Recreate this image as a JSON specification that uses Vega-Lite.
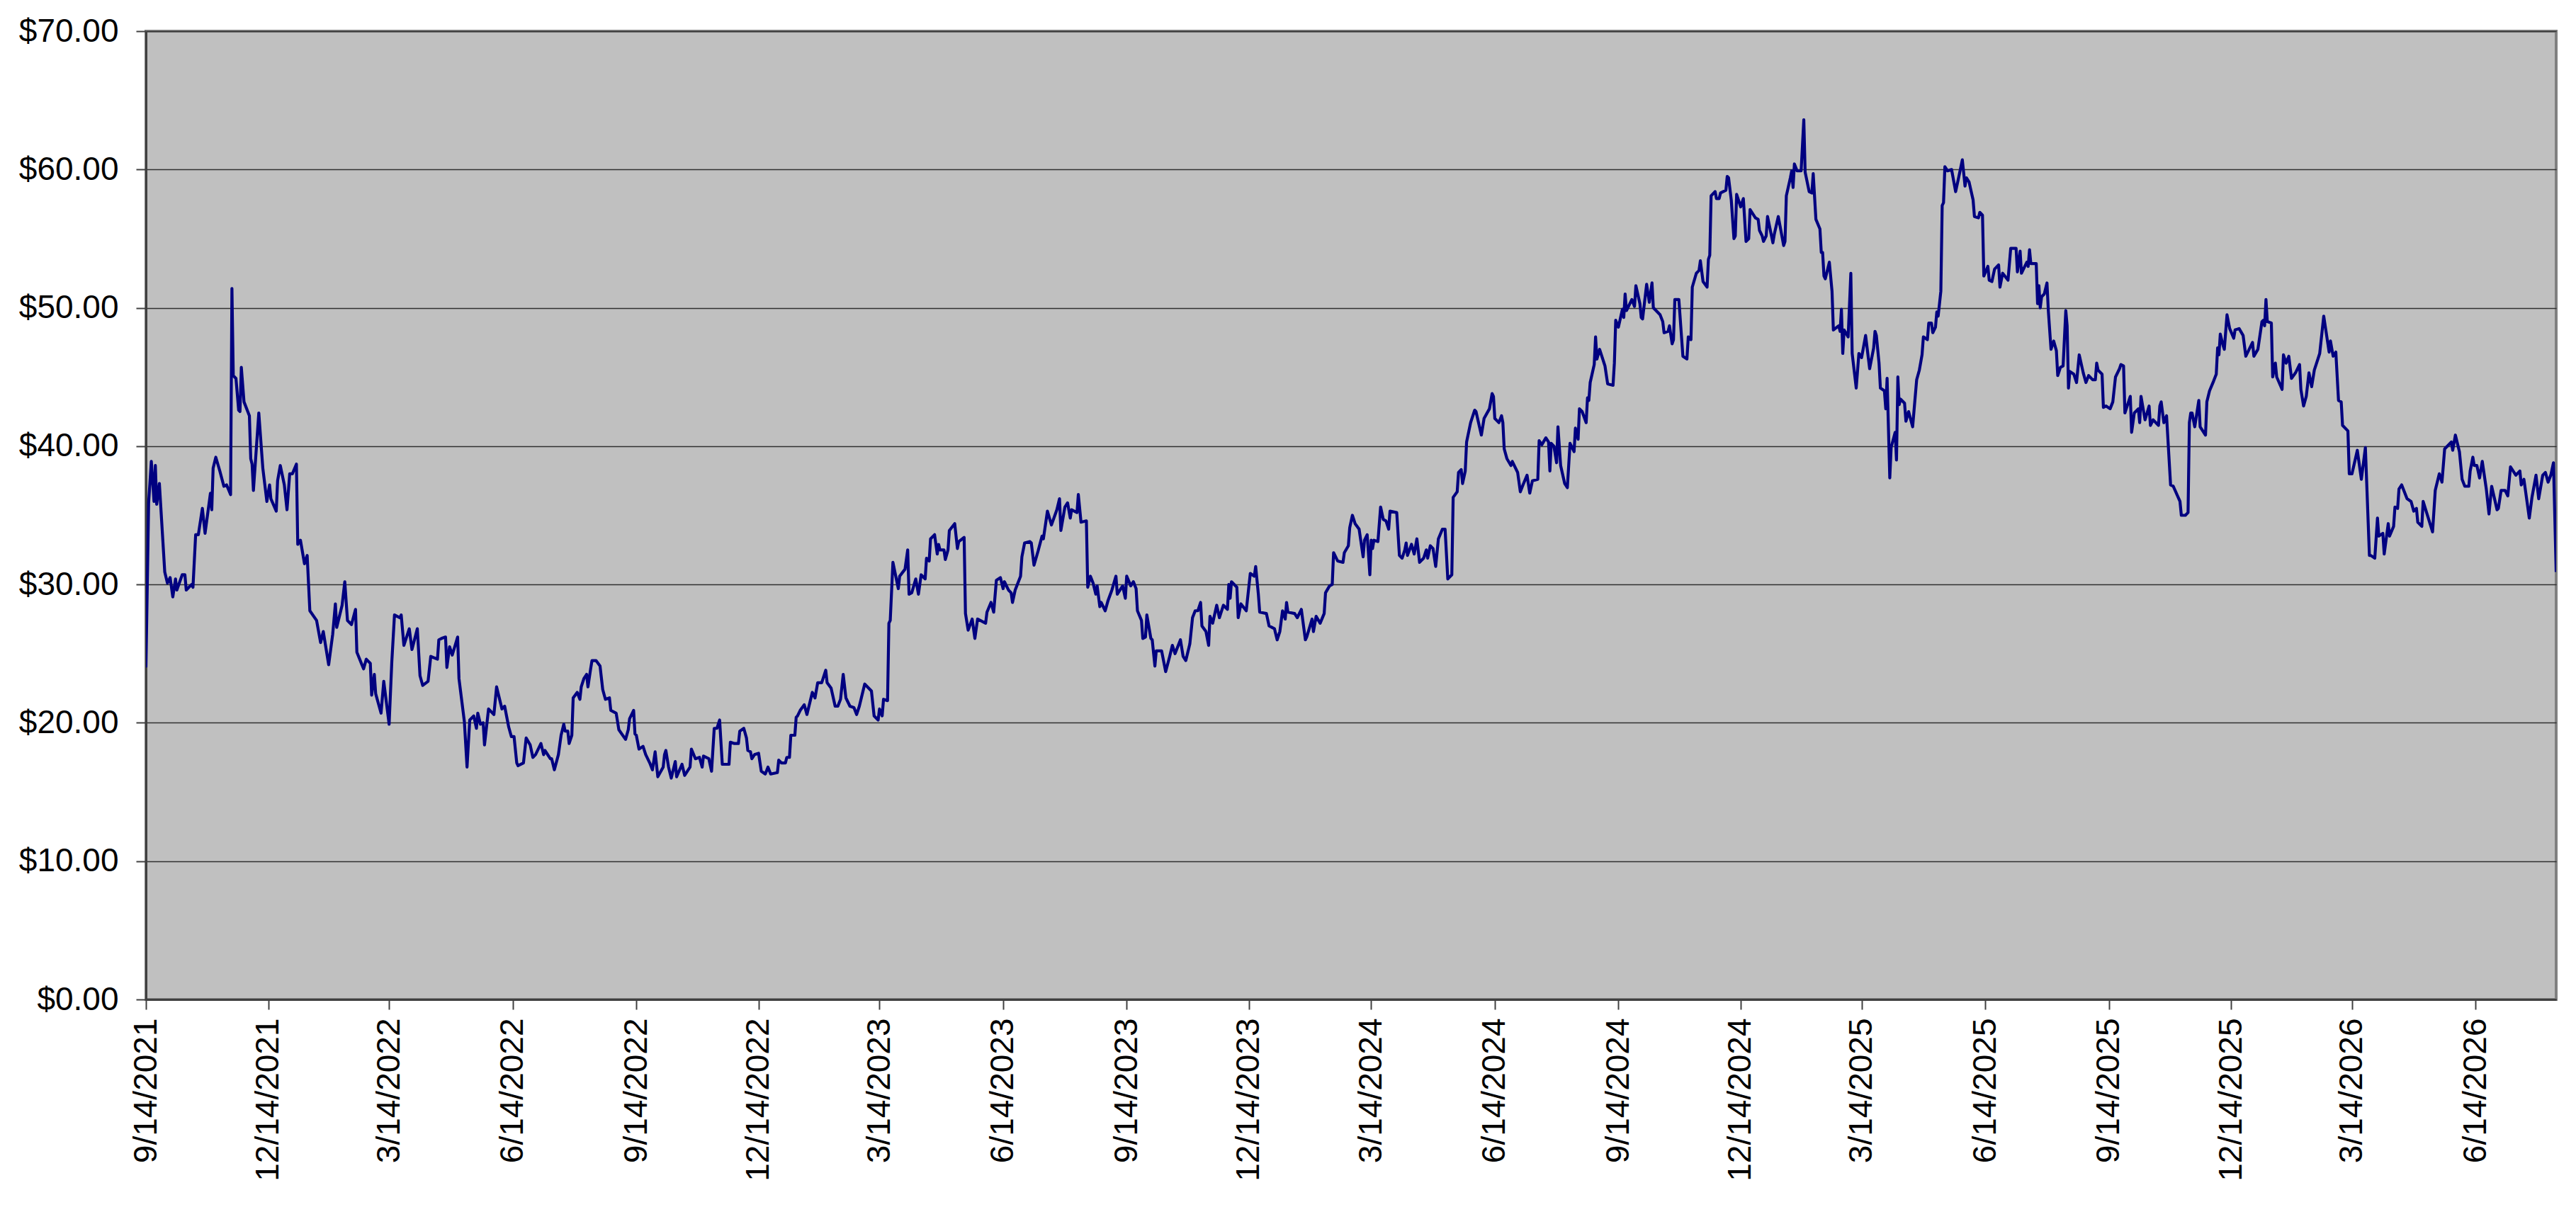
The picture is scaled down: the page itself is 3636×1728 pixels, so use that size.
{
  "$schema": "https://vega.github.io/schema/vega-lite/v6.json",
  "width": 3402,
  "height": 1367,
  "autosize": {"type": "none"},
  "padding": {"left": 206, "top": 44, "right": 28, "bottom": 317},
  "background": "white",
  "config": {
    "view": {"fill": "#C0C0C0", "stroke": "#808080", "strokeWidth": 4},
    "axis": {
      "labelFont": "Liberation Sans",
      "labelFontSize": 46,
      "labelColor": "black",
      "labelOverlap": false,
      "labelLimit": 600,
      "tickSize": 14,
      "tickColor": "#404040",
      "tickWidth": 2,
      "domainColor": "#404040",
      "domainWidth": 3,
      "title": null
    }
  },
  "data": {
    "values": [
      {"date":"2021/09/14","price":24.0},{"date":"2021/09/16","price":35.9},{"date":"2021/09/18","price":38.9},{"date":"2021/09/20","price":36.0},{"date":"2021/09/21","price":38.6},{"date":"2021/09/22","price":35.8},{"date":"2021/09/24","price":37.3},{"date":"2021/09/28","price":30.9},{"date":"2021/09/30","price":30.1},
      {"date":"2021/10/02","price":30.5},{"date":"2021/10/04","price":29.1},{"date":"2021/10/06","price":30.4},{"date":"2021/10/07","price":29.6},{"date":"2021/10/11","price":30.7},{"date":"2021/10/13","price":30.7},{"date":"2021/10/14","price":29.6},{"date":"2021/10/18","price":30.0},{"date":"2021/10/19","price":29.8},{"date":"2021/10/21","price":33.6},{"date":"2021/10/23","price":33.6},{"date":"2021/10/26","price":35.5},{"date":"2021/10/28","price":33.7},
      {"date":"2021/11/01","price":36.6},{"date":"2021/11/02","price":35.4},{"date":"2021/11/03","price":38.4},{"date":"2021/11/05","price":39.2},{"date":"2021/11/08","price":38.2},{"date":"2021/11/11","price":37.1},{"date":"2021/11/13","price":37.2},{"date":"2021/11/16","price":36.5},{"date":"2021/11/17","price":51.4},{"date":"2021/11/18","price":45.1},{"date":"2021/11/20","price":44.9},{"date":"2021/11/22","price":42.6},{"date":"2021/11/23","price":42.5},{"date":"2021/11/24","price":45.7},{"date":"2021/11/26","price":43.2},{"date":"2021/11/30","price":42.2},
      {"date":"2021/12/01","price":39.1},{"date":"2021/12/02","price":38.7},{"date":"2021/12/03","price":36.8},{"date":"2021/12/07","price":42.4},{"date":"2021/12/10","price":38.4},{"date":"2021/12/13","price":36.0},{"date":"2021/12/15","price":37.2},{"date":"2021/12/16","price":36.2},{"date":"2021/12/20","price":35.3},{"date":"2021/12/21","price":37.5},{"date":"2021/12/23","price":38.6},{"date":"2021/12/26","price":37.2},{"date":"2021/12/28","price":35.4},{"date":"2021/12/30","price":38.0},
      {"date":"2022/01/01","price":38.0},{"date":"2022/01/04","price":38.7},{"date":"2022/01/05","price":32.9},{"date":"2022/01/07","price":33.2},{"date":"2022/01/10","price":31.5},{"date":"2022/01/12","price":32.1},{"date":"2022/01/14","price":28.1},{"date":"2022/01/19","price":27.4},{"date":"2022/01/22","price":25.8},{"date":"2022/01/24","price":26.6},{"date":"2022/01/28","price":24.2},{"date":"2022/01/31","price":26.4},
      {"date":"2022/02/02","price":28.6},{"date":"2022/02/03","price":26.9},{"date":"2022/02/07","price":28.5},{"date":"2022/02/09","price":30.2},{"date":"2022/02/11","price":27.4},{"date":"2022/02/14","price":27.1},{"date":"2022/02/17","price":28.2},{"date":"2022/02/18","price":25.1},{"date":"2022/02/23","price":23.9},{"date":"2022/02/25","price":24.6},{"date":"2022/02/28","price":24.3},
      {"date":"2022/03/01","price":22.0},{"date":"2022/03/03","price":23.5},{"date":"2022/03/04","price":22.1},{"date":"2022/03/08","price":20.7},{"date":"2022/03/10","price":23.0},{"date":"2022/03/14","price":19.9},{"date":"2022/03/16","price":24.4},{"date":"2022/03/18","price":27.8},{"date":"2022/03/22","price":27.6},{"date":"2022/03/23","price":27.8},{"date":"2022/03/25","price":25.6},{"date":"2022/03/29","price":26.8},{"date":"2022/03/31","price":25.3},
      {"date":"2022/04/04","price":26.8},{"date":"2022/04/06","price":23.4},{"date":"2022/04/08","price":22.7},{"date":"2022/04/12","price":23.0},{"date":"2022/04/14","price":24.8},{"date":"2022/04/19","price":24.6},{"date":"2022/04/20","price":26.0},{"date":"2022/04/22","price":26.1},{"date":"2022/04/25","price":26.2},{"date":"2022/04/26","price":24.0},{"date":"2022/04/28","price":25.5},{"date":"2022/04/30","price":24.9},
      {"date":"2022/05/04","price":26.2},{"date":"2022/05/05","price":23.2},{"date":"2022/05/09","price":20.1},{"date":"2022/05/11","price":16.8},{"date":"2022/05/13","price":20.2},{"date":"2022/05/16","price":20.5},{"date":"2022/05/18","price":19.6},{"date":"2022/05/19","price":20.7},{"date":"2022/05/21","price":19.9},{"date":"2022/05/23","price":20.0},{"date":"2022/05/24","price":18.4},{"date":"2022/05/27","price":21.0},{"date":"2022/05/31","price":20.6},
      {"date":"2022/06/02","price":22.6},{"date":"2022/06/04","price":21.8},{"date":"2022/06/06","price":21.0},{"date":"2022/06/08","price":21.2},{"date":"2022/06/11","price":19.7},{"date":"2022/06/13","price":19.0},{"date":"2022/06/15","price":19.0},{"date":"2022/06/17","price":17.1},{"date":"2022/06/18","price":16.9},{"date":"2022/06/22","price":17.1},{"date":"2022/06/24","price":18.9},{"date":"2022/06/27","price":18.4},{"date":"2022/06/29","price":17.5},
      {"date":"2022/07/01","price":17.7},{"date":"2022/07/05","price":18.5},{"date":"2022/07/07","price":17.7},{"date":"2022/07/08","price":18.0},{"date":"2022/07/12","price":17.4},{"date":"2022/07/13","price":17.4},{"date":"2022/07/15","price":16.6},{"date":"2022/07/18","price":17.7},{"date":"2022/07/20","price":19.1},{"date":"2022/07/22","price":19.9},{"date":"2022/07/23","price":19.4},{"date":"2022/07/25","price":19.4},{"date":"2022/07/26","price":18.5},{"date":"2022/07/28","price":19.1},{"date":"2022/07/29","price":21.8},
      {"date":"2022/08/01","price":22.2},{"date":"2022/08/03","price":21.7},{"date":"2022/08/04","price":22.6},{"date":"2022/08/06","price":23.2},{"date":"2022/08/08","price":23.5},{"date":"2022/08/09","price":22.6},{"date":"2022/08/11","price":23.9},{"date":"2022/08/12","price":24.5},{"date":"2022/08/15","price":24.5},{"date":"2022/08/18","price":24.1},{"date":"2022/08/20","price":22.4},{"date":"2022/08/22","price":21.7},{"date":"2022/08/25","price":21.8},{"date":"2022/08/26","price":20.9},{"date":"2022/08/30","price":20.7},
      {"date":"2022/09/01","price":19.5},{"date":"2022/09/06","price":18.8},{"date":"2022/09/08","price":19.5},{"date":"2022/09/09","price":20.3},{"date":"2022/09/12","price":20.9},{"date":"2022/09/13","price":19.2},{"date":"2022/09/14","price":19.1},{"date":"2022/09/16","price":18.1},{"date":"2022/09/19","price":18.3},{"date":"2022/09/21","price":17.7},{"date":"2022/09/24","price":17.1},{"date":"2022/09/26","price":16.6},{"date":"2022/09/28","price":17.9},{"date":"2022/09/30","price":16.1},
      {"date":"2022/10/04","price":16.8},{"date":"2022/10/05","price":17.7},{"date":"2022/10/06","price":18.0},{"date":"2022/10/08","price":16.8},{"date":"2022/10/10","price":16.0},{"date":"2022/10/13","price":17.2},{"date":"2022/10/14","price":16.1},{"date":"2022/10/18","price":17.0},{"date":"2022/10/20","price":16.2},{"date":"2022/10/24","price":16.8},{"date":"2022/10/25","price":18.1},{"date":"2022/10/28","price":17.4},{"date":"2022/10/31","price":17.5},
      {"date":"2022/11/02","price":16.8},{"date":"2022/11/03","price":17.6},{"date":"2022/11/07","price":17.4},{"date":"2022/11/09","price":16.5},{"date":"2022/11/11","price":19.6},{"date":"2022/11/13","price":19.6},{"date":"2022/11/15","price":20.2},{"date":"2022/11/17","price":17.0},{"date":"2022/11/22","price":17.0},{"date":"2022/11/23","price":18.6},{"date":"2022/11/26","price":18.5},{"date":"2022/11/29","price":18.5},{"date":"2022/11/30","price":19.4},
      {"date":"2022/12/03","price":19.6},{"date":"2022/12/05","price":18.9},{"date":"2022/12/06","price":18.0},{"date":"2022/12/08","price":17.9},{"date":"2022/12/09","price":17.4},{"date":"2022/12/11","price":17.7},{"date":"2022/12/14","price":17.8},{"date":"2022/12/16","price":16.5},{"date":"2022/12/19","price":16.3},{"date":"2022/12/21","price":16.8},{"date":"2022/12/23","price":16.3},{"date":"2022/12/28","price":16.4},{"date":"2022/12/29","price":17.3},{"date":"2022/12/31","price":17.1},
      {"date":"2023/01/03","price":17.1},{"date":"2023/01/04","price":17.5},{"date":"2023/01/06","price":17.5},{"date":"2023/01/07","price":19.1},{"date":"2023/01/10","price":19.1},{"date":"2023/01/11","price":20.4},{"date":"2023/01/12","price":20.5},{"date":"2023/01/14","price":20.9},{"date":"2023/01/17","price":21.3},{"date":"2023/01/19","price":20.6},{"date":"2023/01/23","price":22.2},{"date":"2023/01/25","price":21.8},{"date":"2023/01/27","price":22.9},{"date":"2023/01/30","price":22.9},
      {"date":"2023/02/02","price":23.8},{"date":"2023/02/03","price":22.9},{"date":"2023/02/06","price":22.5},{"date":"2023/02/09","price":21.2},{"date":"2023/02/11","price":21.2},{"date":"2023/02/13","price":21.7},{"date":"2023/02/15","price":23.5},{"date":"2023/02/17","price":21.8},{"date":"2023/02/20","price":21.2},{"date":"2023/02/23","price":21.1},{"date":"2023/02/25","price":20.6},{"date":"2023/02/27","price":21.2},
      {"date":"2023/03/03","price":22.8},{"date":"2023/03/08","price":22.3},{"date":"2023/03/10","price":20.5},{"date":"2023/03/13","price":20.2},{"date":"2023/03/14","price":21.0},{"date":"2023/03/16","price":20.5},{"date":"2023/03/17","price":21.7},{"date":"2023/03/20","price":21.6},{"date":"2023/03/21","price":27.2},{"date":"2023/03/22","price":27.4},{"date":"2023/03/24","price":31.6},{"date":"2023/03/28","price":29.7},{"date":"2023/03/29","price":30.6},
      {"date":"2023/04/02","price":31.1},{"date":"2023/04/04","price":32.5},{"date":"2023/04/05","price":29.3},{"date":"2023/04/07","price":29.4},{"date":"2023/04/10","price":30.4},{"date":"2023/04/12","price":29.3},{"date":"2023/04/14","price":30.7},{"date":"2023/04/17","price":30.4},{"date":"2023/04/18","price":31.9},{"date":"2023/04/20","price":31.7},{"date":"2023/04/21","price":33.3},{"date":"2023/04/24","price":33.6},{"date":"2023/04/26","price":32.2},{"date":"2023/04/27","price":32.9},{"date":"2023/04/28","price":32.5},
      {"date":"2023/05/01","price":32.5},{"date":"2023/05/02","price":31.8},{"date":"2023/05/04","price":32.5},{"date":"2023/05/05","price":33.9},{"date":"2023/05/09","price":34.4},{"date":"2023/05/11","price":32.6},{"date":"2023/05/12","price":33.1},{"date":"2023/05/16","price":33.4},{"date":"2023/05/17","price":27.9},{"date":"2023/05/19","price":26.7},{"date":"2023/05/22","price":27.5},{"date":"2023/05/24","price":26.1},{"date":"2023/05/26","price":27.5},{"date":"2023/05/30","price":27.3},
      {"date":"2023/06/01","price":27.2},{"date":"2023/06/02","price":28.0},{"date":"2023/06/05","price":28.7},{"date":"2023/06/07","price":28.0},{"date":"2023/06/09","price":30.3},{"date":"2023/06/12","price":30.5},{"date":"2023/06/14","price":29.7},{"date":"2023/06/15","price":30.2},{"date":"2023/06/18","price":29.6},{"date":"2023/06/20","price":29.4},{"date":"2023/06/21","price":28.7},{"date":"2023/06/23","price":29.6},{"date":"2023/06/27","price":30.6},{"date":"2023/06/28","price":32.0},{"date":"2023/06/30","price":33.0},
      {"date":"2023/07/04","price":33.1},{"date":"2023/07/05","price":33.0},{"date":"2023/07/07","price":31.4},{"date":"2023/07/10","price":32.4},{"date":"2023/07/13","price":33.5},{"date":"2023/07/14","price":33.3},{"date":"2023/07/17","price":35.3},{"date":"2023/07/20","price":34.3},{"date":"2023/07/24","price":35.4},{"date":"2023/07/26","price":36.2},{"date":"2023/07/27","price":33.9},{"date":"2023/07/30","price":35.6},
      {"date":"2023/08/01","price":35.9},{"date":"2023/08/03","price":34.8},{"date":"2023/08/04","price":35.4},{"date":"2023/08/08","price":35.2},{"date":"2023/08/09","price":36.5},{"date":"2023/08/11","price":34.5},{"date":"2023/08/15","price":34.6},{"date":"2023/08/16","price":29.8},{"date":"2023/08/18","price":30.6},{"date":"2023/08/20","price":30.1},{"date":"2023/08/22","price":29.3},{"date":"2023/08/23","price":29.9},{"date":"2023/08/25","price":28.4},{"date":"2023/08/26","price":28.7},{"date":"2023/08/29","price":28.1},{"date":"2023/08/31","price":28.8},
      {"date":"2023/09/03","price":29.6},{"date":"2023/09/06","price":30.6},{"date":"2023/09/07","price":29.3},{"date":"2023/09/11","price":29.9},{"date":"2023/09/13","price":29.0},{"date":"2023/09/14","price":30.6},{"date":"2023/09/17","price":29.9},{"date":"2023/09/19","price":30.2},{"date":"2023/09/21","price":29.7},{"date":"2023/09/22","price":28.1},{"date":"2023/09/25","price":27.4},{"date":"2023/09/26","price":26.1},{"date":"2023/09/28","price":26.2},{"date":"2023/09/29","price":27.8},
      {"date":"2023/10/02","price":26.1},{"date":"2023/10/03","price":26.0},{"date":"2023/10/05","price":24.1},{"date":"2023/10/06","price":25.2},{"date":"2023/10/10","price":25.2},{"date":"2023/10/13","price":23.7},{"date":"2023/10/16","price":24.8},{"date":"2023/10/18","price":25.6},{"date":"2023/10/20","price":25.0},{"date":"2023/10/24","price":26.0},{"date":"2023/10/26","price":24.8},{"date":"2023/10/28","price":24.5},{"date":"2023/10/31","price":25.7},
      {"date":"2023/11/02","price":27.6},{"date":"2023/11/04","price":28.1},{"date":"2023/11/06","price":28.1},{"date":"2023/11/08","price":28.7},{"date":"2023/11/09","price":27.0},{"date":"2023/11/12","price":26.6},{"date":"2023/11/14","price":25.6},{"date":"2023/11/15","price":27.7},{"date":"2023/11/17","price":27.2},{"date":"2023/11/20","price":28.5},{"date":"2023/11/22","price":27.6},{"date":"2023/11/25","price":28.5},{"date":"2023/11/28","price":28.2},{"date":"2023/11/29","price":30.0},{"date":"2023/11/30","price":29.0},
      {"date":"2023/12/01","price":30.2},{"date":"2023/12/05","price":29.8},{"date":"2023/12/06","price":27.6},{"date":"2023/12/08","price":28.6},{"date":"2023/12/12","price":28.1},{"date":"2023/12/15","price":30.8},{"date":"2023/12/18","price":30.6},{"date":"2023/12/19","price":31.3},{"date":"2023/12/21","price":29.3},{"date":"2023/12/22","price":28.0},{"date":"2023/12/27","price":27.9},{"date":"2023/12/29","price":27.0},
      {"date":"2024/01/02","price":26.8},{"date":"2024/01/04","price":26.0},{"date":"2024/01/06","price":26.6},{"date":"2024/01/08","price":28.1},{"date":"2024/01/10","price":27.5},{"date":"2024/01/11","price":28.7},{"date":"2024/01/12","price":28.0},{"date":"2024/01/17","price":27.9},{"date":"2024/01/19","price":27.6},{"date":"2024/01/22","price":28.2},{"date":"2024/01/25","price":26.0},{"date":"2024/01/26","price":26.2},{"date":"2024/01/30","price":27.5},{"date":"2024/01/31","price":26.6},
      {"date":"2024/02/02","price":27.7},{"date":"2024/02/05","price":27.2},{"date":"2024/02/08","price":27.9},{"date":"2024/02/09","price":29.4},{"date":"2024/02/12","price":29.9},{"date":"2024/02/14","price":30.0},{"date":"2024/02/15","price":32.3},{"date":"2024/02/18","price":31.7},{"date":"2024/02/22","price":31.6},{"date":"2024/02/23","price":32.3},{"date":"2024/02/26","price":32.8},{"date":"2024/02/27","price":34.1},{"date":"2024/02/29","price":35.0},
      {"date":"2024/03/02","price":34.4},{"date":"2024/03/05","price":34.0},{"date":"2024/03/08","price":32.0},{"date":"2024/03/09","price":33.2},{"date":"2024/03/11","price":33.6},{"date":"2024/03/13","price":30.7},{"date":"2024/03/14","price":33.2},{"date":"2024/03/15","price":32.6},{"date":"2024/03/16","price":33.2},{"date":"2024/03/19","price":33.1},{"date":"2024/03/21","price":35.6},{"date":"2024/03/23","price":34.7},{"date":"2024/03/25","price":34.6},{"date":"2024/03/27","price":34.0},{"date":"2024/03/28","price":35.3},
      {"date":"2024/04/02","price":35.2},{"date":"2024/04/04","price":32.1},{"date":"2024/04/06","price":31.9},{"date":"2024/04/08","price":32.5},{"date":"2024/04/09","price":33.0},{"date":"2024/04/10","price":32.1},{"date":"2024/04/13","price":32.9},{"date":"2024/04/15","price":32.2},{"date":"2024/04/17","price":33.3},{"date":"2024/04/19","price":31.6},{"date":"2024/04/22","price":31.9},{"date":"2024/04/24","price":32.5},{"date":"2024/04/25","price":31.9},{"date":"2024/04/27","price":32.8},{"date":"2024/04/29","price":32.6},
      {"date":"2024/05/01","price":31.3},{"date":"2024/05/03","price":33.3},{"date":"2024/05/06","price":34.0},{"date":"2024/05/08","price":34.0},{"date":"2024/05/10","price":30.4},{"date":"2024/05/13","price":30.7},{"date":"2024/05/14","price":36.3},{"date":"2024/05/17","price":36.7},{"date":"2024/05/18","price":38.1},{"date":"2024/05/20","price":38.3},{"date":"2024/05/21","price":37.3},{"date":"2024/05/23","price":38.2},{"date":"2024/05/24","price":40.3},{"date":"2024/05/27","price":41.7},{"date":"2024/05/30","price":42.6},{"date":"2024/05/31","price":42.5},
      {"date":"2024/06/04","price":40.8},{"date":"2024/06/06","price":42.0},{"date":"2024/06/10","price":42.7},{"date":"2024/06/12","price":43.8},{"date":"2024/06/13","price":43.6},{"date":"2024/06/14","price":42.0},{"date":"2024/06/17","price":41.7},{"date":"2024/06/19","price":42.2},{"date":"2024/06/20","price":41.7},{"date":"2024/06/21","price":39.8},{"date":"2024/06/23","price":39.1},{"date":"2024/06/26","price":38.6},{"date":"2024/06/27","price":38.9},
      {"date":"2024/07/01","price":38.1},{"date":"2024/07/03","price":36.7},{"date":"2024/07/05","price":37.2},{"date":"2024/07/08","price":37.9},{"date":"2024/07/10","price":36.6},{"date":"2024/07/12","price":37.5},{"date":"2024/07/16","price":37.6},{"date":"2024/07/17","price":40.4},{"date":"2024/07/19","price":40.1},{"date":"2024/07/22","price":40.6},{"date":"2024/07/24","price":40.3},{"date":"2024/07/25","price":38.2},{"date":"2024/07/26","price":40.2},{"date":"2024/07/28","price":40.0},{"date":"2024/07/30","price":38.8},{"date":"2024/07/31","price":41.4},
      {"date":"2024/08/02","price":38.6},{"date":"2024/08/05","price":37.3},{"date":"2024/08/07","price":37.0},{"date":"2024/08/09","price":40.2},{"date":"2024/08/12","price":39.6},{"date":"2024/08/13","price":41.3},{"date":"2024/08/15","price":40.5},{"date":"2024/08/16","price":42.7},{"date":"2024/08/18","price":42.5},{"date":"2024/08/21","price":41.7},{"date":"2024/08/22","price":43.5},{"date":"2024/08/23","price":43.3},{"date":"2024/08/24","price":44.6},{"date":"2024/08/27","price":45.9},{"date":"2024/08/28","price":47.9},{"date":"2024/08/29","price":46.3},{"date":"2024/08/31","price":47.0},
      {"date":"2024/09/03","price":46.1},{"date":"2024/09/04","price":45.8},{"date":"2024/09/06","price":44.5},{"date":"2024/09/10","price":44.4},{"date":"2024/09/11","price":46.0},{"date":"2024/09/12","price":49.1},{"date":"2024/09/14","price":48.6},{"date":"2024/09/17","price":49.9},{"date":"2024/09/18","price":49.3},{"date":"2024/09/19","price":51.0},{"date":"2024/09/20","price":49.8},{"date":"2024/09/24","price":50.6},{"date":"2024/09/26","price":50.1},{"date":"2024/09/27","price":51.6},{"date":"2024/09/30","price":50.3},
      {"date":"2024/10/01","price":49.3},{"date":"2024/10/02","price":49.2},{"date":"2024/10/05","price":51.7},{"date":"2024/10/07","price":50.4},{"date":"2024/10/09","price":51.8},{"date":"2024/10/10","price":50.0},{"date":"2024/10/15","price":49.5},{"date":"2024/10/17","price":49.0},{"date":"2024/10/18","price":48.2},{"date":"2024/10/21","price":48.3},{"date":"2024/10/22","price":48.7},{"date":"2024/10/24","price":47.4},{"date":"2024/10/25","price":47.7},{"date":"2024/10/26","price":50.6},{"date":"2024/10/29","price":50.6},
      {"date":"2024/11/01","price":46.5},{"date":"2024/11/04","price":46.3},{"date":"2024/11/05","price":47.9},{"date":"2024/11/07","price":47.7},{"date":"2024/11/08","price":51.5},{"date":"2024/11/11","price":52.5},{"date":"2024/11/13","price":52.7},{"date":"2024/11/14","price":53.4},{"date":"2024/11/16","price":51.9},{"date":"2024/11/19","price":51.5},{"date":"2024/11/20","price":53.5},{"date":"2024/11/21","price":53.8},{"date":"2024/11/22","price":58.1},{"date":"2024/11/25","price":58.4},{"date":"2024/11/26","price":57.9},{"date":"2024/11/28","price":57.9},{"date":"2024/11/29","price":58.3},
      {"date":"2024/12/03","price":58.5},{"date":"2024/12/04","price":59.5},{"date":"2024/12/05","price":59.4},{"date":"2024/12/07","price":57.8},{"date":"2024/12/09","price":55.0},{"date":"2024/12/10","price":55.2},{"date":"2024/12/11","price":58.2},{"date":"2024/12/14","price":57.3},{"date":"2024/12/16","price":57.9},{"date":"2024/12/18","price":54.8},{"date":"2024/12/20","price":55.0},{"date":"2024/12/21","price":57.1},{"date":"2024/12/25","price":56.5},{"date":"2024/12/27","price":56.4},{"date":"2024/12/28","price":55.6},{"date":"2024/12/30","price":55.2},{"date":"2024/12/31","price":54.8},
      {"date":"2025/01/02","price":55.2},{"date":"2025/01/03","price":56.6},{"date":"2025/01/07","price":54.7},{"date":"2025/01/08","price":55.3},{"date":"2025/01/11","price":56.6},{"date":"2025/01/15","price":54.5},{"date":"2025/01/16","price":54.8},{"date":"2025/01/17","price":58.1},{"date":"2025/01/20","price":59.4},{"date":"2025/01/21","price":59.9},{"date":"2025/01/22","price":58.7},{"date":"2025/01/23","price":60.4},{"date":"2025/01/25","price":59.9},{"date":"2025/01/28","price":59.9},{"date":"2025/01/30","price":63.6},{"date":"2025/01/31","price":59.8},
      {"date":"2025/02/03","price":58.4},{"date":"2025/02/05","price":58.3},{"date":"2025/02/06","price":59.7},{"date":"2025/02/08","price":56.4},{"date":"2025/02/11","price":55.7},{"date":"2025/02/12","price":54.0},{"date":"2025/02/13","price":54.0},{"date":"2025/02/14","price":52.3},{"date":"2025/02/15","price":52.1},{"date":"2025/02/18","price":53.3},{"date":"2025/02/20","price":51.2},{"date":"2025/02/21","price":48.4},{"date":"2025/02/25","price":48.7},{"date":"2025/02/26","price":48.3},{"date":"2025/02/27","price":49.9},{"date":"2025/02/28","price":46.7},
      {"date":"2025/03/01","price":48.4},{"date":"2025/03/04","price":47.9},{"date":"2025/03/06","price":52.5},{"date":"2025/03/07","price":46.7},{"date":"2025/03/10","price":44.2},{"date":"2025/03/12","price":46.7},{"date":"2025/03/14","price":46.4},{"date":"2025/03/17","price":48.0},{"date":"2025/03/19","price":46.4},{"date":"2025/03/20","price":45.6},{"date":"2025/03/23","price":47.1},{"date":"2025/03/24","price":48.3},{"date":"2025/03/25","price":48.0},{"date":"2025/03/27","price":46.0},{"date":"2025/03/28","price":44.2},{"date":"2025/03/31","price":44.0},
      {"date":"2025/04/01","price":42.7},{"date":"2025/04/02","price":44.9},{"date":"2025/04/04","price":37.7},{"date":"2025/04/05","price":39.9},{"date":"2025/04/08","price":41.0},{"date":"2025/04/09","price":39.0},{"date":"2025/04/10","price":45.0},{"date":"2025/04/11","price":43.0},{"date":"2025/04/12","price":43.4},{"date":"2025/04/15","price":43.1},{"date":"2025/04/16","price":41.8},{"date":"2025/04/18","price":42.5},{"date":"2025/04/21","price":41.4},{"date":"2025/04/24","price":44.8},{"date":"2025/04/26","price":45.5},{"date":"2025/04/28","price":46.6},{"date":"2025/04/29","price":47.9},
      {"date":"2025/05/02","price":47.7},{"date":"2025/05/03","price":48.9},{"date":"2025/05/05","price":48.9},{"date":"2025/05/06","price":48.2},{"date":"2025/05/08","price":48.6},{"date":"2025/05/09","price":49.7},{"date":"2025/05/10","price":49.4},{"date":"2025/05/12","price":51.2},{"date":"2025/05/13","price":57.4},{"date":"2025/05/14","price":57.6},{"date":"2025/05/15","price":60.2},{"date":"2025/05/17","price":59.9},{"date":"2025/05/20","price":60.0},{"date":"2025/05/23","price":58.4},{"date":"2025/05/25","price":59.3},{"date":"2025/05/28","price":60.7},{"date":"2025/05/30","price":58.8},{"date":"2025/05/31","price":59.4},
      {"date":"2025/06/02","price":59.1},{"date":"2025/06/05","price":57.8},{"date":"2025/06/06","price":56.6},{"date":"2025/06/09","price":56.5},{"date":"2025/06/10","price":56.9},{"date":"2025/06/12","price":56.7},{"date":"2025/06/13","price":52.3},{"date":"2025/06/16","price":53.0},{"date":"2025/06/17","price":52.0},{"date":"2025/06/19","price":51.9},{"date":"2025/06/21","price":52.8},{"date":"2025/06/24","price":53.1},{"date":"2025/06/25","price":51.5},{"date":"2025/06/27","price":52.5},
      {"date":"2025/07/01","price":52.0},{"date":"2025/07/03","price":54.3},{"date":"2025/07/07","price":54.3},{"date":"2025/07/08","price":52.6},{"date":"2025/07/10","price":54.1},{"date":"2025/07/11","price":52.5},{"date":"2025/07/15","price":53.3},{"date":"2025/07/16","price":53.0},{"date":"2025/07/17","price":54.2},{"date":"2025/07/18","price":53.2},{"date":"2025/07/22","price":53.2},{"date":"2025/07/23","price":50.3},{"date":"2025/07/24","price":51.6},{"date":"2025/07/25","price":50.0},{"date":"2025/07/26","price":50.8},{"date":"2025/07/28","price":51.0},{"date":"2025/07/30","price":51.8},{"date":"2025/07/31","price":49.8},
      {"date":"2025/08/02","price":47.0},{"date":"2025/08/04","price":47.6},{"date":"2025/08/06","price":46.9},{"date":"2025/08/07","price":45.1},{"date":"2025/08/09","price":45.7},{"date":"2025/08/11","price":45.8},{"date":"2025/08/13","price":49.8},{"date":"2025/08/14","price":48.7},{"date":"2025/08/15","price":44.2},{"date":"2025/08/16","price":45.4},{"date":"2025/08/19","price":45.2},{"date":"2025/08/21","price":44.6},{"date":"2025/08/23","price":46.6},{"date":"2025/08/26","price":45.3},{"date":"2025/08/28","price":44.6},{"date":"2025/08/30","price":45.1},
      {"date":"2025/09/02","price":44.8},{"date":"2025/09/04","price":44.8},{"date":"2025/09/05","price":46.0},{"date":"2025/09/06","price":45.5},{"date":"2025/09/09","price":45.2},{"date":"2025/09/10","price":42.8},{"date":"2025/09/12","price":42.9},{"date":"2025/09/15","price":42.7},{"date":"2025/09/17","price":43.2},{"date":"2025/09/19","price":45.0},{"date":"2025/09/22","price":45.6},{"date":"2025/09/23","price":45.9},{"date":"2025/09/25","price":45.8},{"date":"2025/09/26","price":42.4},{"date":"2025/09/30","price":43.6},
      {"date":"2025/10/01","price":41.0},{"date":"2025/10/03","price":42.4},{"date":"2025/10/06","price":42.7},{"date":"2025/10/07","price":41.7},{"date":"2025/10/08","price":43.6},{"date":"2025/10/11","price":41.9},{"date":"2025/10/14","price":42.9},{"date":"2025/10/15","price":41.5},{"date":"2025/10/17","price":41.9},{"date":"2025/10/21","price":41.5},{"date":"2025/10/22","price":42.9},{"date":"2025/10/23","price":43.2},{"date":"2025/10/25","price":41.7},{"date":"2025/10/27","price":42.2},{"date":"2025/10/30","price":37.2},
      {"date":"2025/11/01","price":37.1},{"date":"2025/11/06","price":36.0},{"date":"2025/11/07","price":35.0},{"date":"2025/11/10","price":35.0},{"date":"2025/11/12","price":35.2},{"date":"2025/11/13","price":41.7},{"date":"2025/11/14","price":42.4},{"date":"2025/11/15","price":42.4},{"date":"2025/11/17","price":41.4},{"date":"2025/11/20","price":43.3},{"date":"2025/11/21","price":41.4},{"date":"2025/11/25","price":40.8},{"date":"2025/11/26","price":43.2},{"date":"2025/11/28","price":44.0},
      {"date":"2025/12/01","price":44.7},{"date":"2025/12/03","price":45.2},{"date":"2025/12/04","price":47.1},{"date":"2025/12/05","price":46.6},{"date":"2025/12/06","price":48.1},{"date":"2025/12/08","price":47.3},{"date":"2025/12/09","price":47.0},{"date":"2025/12/11","price":49.5},{"date":"2025/12/13","price":48.5},{"date":"2025/12/16","price":47.8},{"date":"2025/12/17","price":48.4},{"date":"2025/12/20","price":48.5},{"date":"2025/12/23","price":48.0},{"date":"2025/12/25","price":46.5},{"date":"2025/12/30","price":47.5},{"date":"2025/12/31","price":46.5},
      {"date":"2026/01/03","price":47.0},{"date":"2026/01/06","price":49.0},{"date":"2026/01/07","price":49.1},{"date":"2026/01/08","price":48.7},{"date":"2026/01/09","price":50.6},{"date":"2026/01/10","price":49.0},{"date":"2026/01/13","price":48.9},{"date":"2026/01/14","price":45.0},{"date":"2026/01/16","price":46.0},{"date":"2026/01/17","price":45.0},{"date":"2026/01/21","price":44.1},{"date":"2026/01/22","price":46.6},{"date":"2026/01/24","price":46.0},{"date":"2026/01/26","price":46.5},{"date":"2026/01/28","price":44.9},{"date":"2026/01/31","price":45.3},
      {"date":"2026/02/03","price":45.9},{"date":"2026/02/04","price":44.1},{"date":"2026/02/06","price":42.9},{"date":"2026/02/08","price":43.6},{"date":"2026/02/10","price":45.3},{"date":"2026/02/12","price":44.3},{"date":"2026/02/14","price":45.5},{"date":"2026/02/18","price":46.7},{"date":"2026/02/21","price":49.4},{"date":"2026/02/25","price":46.8},{"date":"2026/02/26","price":47.6},{"date":"2026/02/28","price":46.5},
      {"date":"2026/03/02","price":46.8},{"date":"2026/03/04","price":43.3},{"date":"2026/03/06","price":43.2},{"date":"2026/03/07","price":41.5},{"date":"2026/03/11","price":41.1},{"date":"2026/03/12","price":38.0},{"date":"2026/03/14","price":38.0},{"date":"2026/03/18","price":39.7},{"date":"2026/03/21","price":37.6},{"date":"2026/03/24","price":39.9},{"date":"2026/03/27","price":32.1},{"date":"2026/03/28","price":32.1},{"date":"2026/03/31","price":31.9},
      {"date":"2026/04/02","price":34.8},{"date":"2026/04/03","price":33.5},{"date":"2026/04/06","price":33.7},{"date":"2026/04/07","price":32.2},{"date":"2026/04/10","price":34.4},{"date":"2026/04/11","price":33.5},{"date":"2026/04/14","price":34.2},{"date":"2026/04/15","price":35.6},{"date":"2026/04/17","price":35.5},{"date":"2026/04/18","price":36.9},{"date":"2026/04/20","price":37.2},{"date":"2026/04/24","price":36.2},{"date":"2026/04/27","price":36.0},{"date":"2026/04/29","price":35.3},
      {"date":"2026/05/01","price":35.5},{"date":"2026/05/02","price":34.5},{"date":"2026/05/05","price":34.2},{"date":"2026/05/06","price":36.0},{"date":"2026/05/13","price":33.8},{"date":"2026/05/15","price":36.8},{"date":"2026/05/18","price":38.0},{"date":"2026/05/20","price":37.4},{"date":"2026/05/22","price":39.8},{"date":"2026/05/27","price":40.3},{"date":"2026/05/28","price":39.7},{"date":"2026/05/30","price":40.8},
      {"date":"2026/06/02","price":39.6},{"date":"2026/06/04","price":37.6},{"date":"2026/06/06","price":37.1},{"date":"2026/06/09","price":37.1},{"date":"2026/06/10","price":38.2},{"date":"2026/06/12","price":39.2},{"date":"2026/06/13","price":38.6},{"date":"2026/06/15","price":38.6},{"date":"2026/06/17","price":37.7},{"date":"2026/06/19","price":38.9},{"date":"2026/06/22","price":36.9},{"date":"2026/06/24","price":35.1},{"date":"2026/06/26","price":37.1},{"date":"2026/06/30","price":35.4},
      {"date":"2026/07/01","price":35.5},{"date":"2026/07/03","price":36.8},{"date":"2026/07/06","price":36.8},{"date":"2026/07/08","price":36.4},{"date":"2026/07/10","price":38.5},{"date":"2026/07/14","price":37.9},{"date":"2026/07/17","price":38.2},{"date":"2026/07/18","price":37.2},{"date":"2026/07/20","price":37.6},{"date":"2026/07/24","price":34.8},{"date":"2026/07/26","price":36.3},{"date":"2026/07/29","price":37.9},{"date":"2026/07/31","price":36.2},
      {"date":"2026/08/03","price":37.9},{"date":"2026/08/05","price":38.1},{"date":"2026/08/07","price":37.4},{"date":"2026/08/09","price":37.9},{"date":"2026/08/11","price":38.8},{"date":"2026/08/13","price":30.9}
    ]
  },
  "mark": {"type": "line", "color": "#000080", "strokeWidth": 4.2, "strokeJoin": "round", "clip": true},
  "encoding": {
    "x": {
      "field": "date",
      "type": "temporal",
      "scale": {"domain": [{"year": 2021, "month": 9, "date": 14}, {"year": 2026, "month": 8, "date": 13}]},
      "axis": {
        "values": [
          {"year": 2021, "month": 9, "date": 14}, {"year": 2021, "month": 12, "date": 14},
          {"year": 2022, "month": 3, "date": 14}, {"year": 2022, "month": 6, "date": 14}, {"year": 2022, "month": 9, "date": 14}, {"year": 2022, "month": 12, "date": 14},
          {"year": 2023, "month": 3, "date": 14}, {"year": 2023, "month": 6, "date": 14}, {"year": 2023, "month": 9, "date": 14}, {"year": 2023, "month": 12, "date": 14},
          {"year": 2024, "month": 3, "date": 14}, {"year": 2024, "month": 6, "date": 14}, {"year": 2024, "month": 9, "date": 14}, {"year": 2024, "month": 12, "date": 14},
          {"year": 2025, "month": 3, "date": 14}, {"year": 2025, "month": 6, "date": 14}, {"year": 2025, "month": 9, "date": 14}, {"year": 2025, "month": 12, "date": 14},
          {"year": 2026, "month": 3, "date": 14}, {"year": 2026, "month": 6, "date": 14}
        ],
        "format": "%-m/%-d/%Y",
        "labelAngle": 270,
        "labelPadding": 12,
        "labelFlush": false,
        "grid": false
      }
    },
    "y": {
      "field": "price",
      "type": "quantitative",
      "scale": {"domain": [0, 70], "nice": false},
      "axis": {
        "values": [0, 10, 20, 30, 40, 50, 60, 70],
        "format": "$.2f",
        "labelPadding": 25,
        "grid": true,
        "gridColor": "#303030",
        "gridWidth": 1.5
      }
    }
  }
}
